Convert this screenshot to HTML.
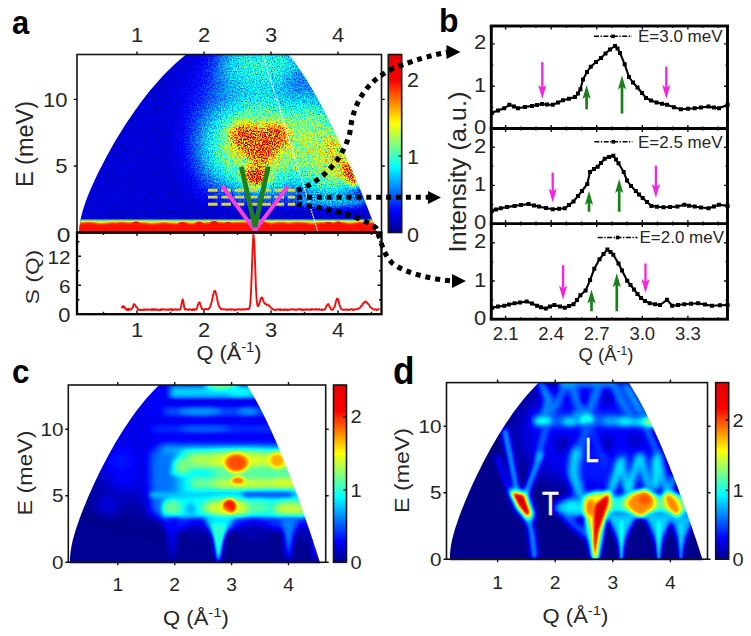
<!DOCTYPE html>
<html lang="en"><head><meta charset="utf-8"><title>Figure</title>
<style>
html,body{margin:0;padding:0;background:#fff}
svg{display:block}
text{font-family:"Liberation Sans",sans-serif;fill:#262626}
.lbl{font-weight:bold;font-size:33.5px;fill:#000}
.tk{font-size:21.5px}
.tkb{font-size:18.5px}
.ax{font-size:22.5px}
.sm{font-size:14px}
.axis{fill:none;stroke:#151515;stroke-width:1.6}
.tick{stroke:#111;stroke-width:1.4;fill:none}
</style></head><body>
<svg width="751" height="636" viewBox="0 0 751 636">
<defs>
<linearGradient id="jetbar" x1="0" y1="1" x2="0" y2="0">
<stop offset="0" stop-color="#00008f"/><stop offset="0.12" stop-color="#0000ff"/>
<stop offset="0.37" stop-color="#00ffff"/><stop offset="0.615" stop-color="#ffff00"/>
<stop offset="0.855" stop-color="#ff0000"/><stop offset="1" stop-color="#e60000"/>
</linearGradient>
<filter id="jet" x="0" y="0" width="100%" height="100%" color-interpolation-filters="sRGB">
<feComponentTransfer>
<feFuncR type="table" tableValues="0 0 0 0 .5 1 1 1 .5"/>
<feFuncG type="table" tableValues="0 0 .5 1 1 1 .5 0 0"/>
<feFuncB type="table" tableValues=".5 1 1 1 .5 0 0 0 0"/>
</feComponentTransfer>
</filter>
<filter id="jetn" x="0" y="0" width="100%" height="100%" color-interpolation-filters="sRGB">
<feTurbulence type="fractalNoise" baseFrequency="0.83 0.77" numOctaves="3" seed="3" result="n"/>
<feColorMatrix in="n" type="matrix" values="2 0 0 0 -0.5  2 0 0 0 -0.5  2 0 0 0 -0.5  0 0 0 0 1" result="ng"/>
<feComposite in="SourceGraphic" in2="ng" operator="arithmetic" k1="0.66" k2="0.67" k3="0.02" k4="-0.01" result="m"/>
<feComponentTransfer in="m">
<feFuncR type="table" tableValues="0 0 0 0 .5 1 1 1 .5"/>
<feFuncG type="table" tableValues="0 0 .5 1 1 1 .5 0 0"/>
<feFuncB type="table" tableValues=".5 1 1 1 .5 0 0 0 0"/>
</feComponentTransfer>
</filter>

<filter id="b1" filterUnits="userSpaceOnUse" x="-100" y="-100" width="950" height="850" color-interpolation-filters="sRGB"><feGaussianBlur stdDeviation="1"/></filter>
<filter id="b1_5" filterUnits="userSpaceOnUse" x="-100" y="-100" width="950" height="850" color-interpolation-filters="sRGB"><feGaussianBlur stdDeviation="1.5"/></filter>
<filter id="b2" filterUnits="userSpaceOnUse" x="-100" y="-100" width="950" height="850" color-interpolation-filters="sRGB"><feGaussianBlur stdDeviation="2"/></filter>
<filter id="b2_5" filterUnits="userSpaceOnUse" x="-100" y="-100" width="950" height="850" color-interpolation-filters="sRGB"><feGaussianBlur stdDeviation="2.5"/></filter>
<filter id="b3" filterUnits="userSpaceOnUse" x="-100" y="-100" width="950" height="850" color-interpolation-filters="sRGB"><feGaussianBlur stdDeviation="3"/></filter>
<filter id="b3_5" filterUnits="userSpaceOnUse" x="-100" y="-100" width="950" height="850" color-interpolation-filters="sRGB"><feGaussianBlur stdDeviation="3.5"/></filter>
<filter id="b4" filterUnits="userSpaceOnUse" x="-100" y="-100" width="950" height="850" color-interpolation-filters="sRGB"><feGaussianBlur stdDeviation="4"/></filter>
<filter id="b4_5" filterUnits="userSpaceOnUse" x="-100" y="-100" width="950" height="850" color-interpolation-filters="sRGB"><feGaussianBlur stdDeviation="4.5"/></filter>
<filter id="b5" filterUnits="userSpaceOnUse" x="-100" y="-100" width="950" height="850" color-interpolation-filters="sRGB"><feGaussianBlur stdDeviation="5"/></filter>
<filter id="b6" filterUnits="userSpaceOnUse" x="-100" y="-100" width="950" height="850" color-interpolation-filters="sRGB"><feGaussianBlur stdDeviation="6"/></filter>
<filter id="b7" filterUnits="userSpaceOnUse" x="-100" y="-100" width="950" height="850" color-interpolation-filters="sRGB"><feGaussianBlur stdDeviation="7"/></filter>
<filter id="b8" filterUnits="userSpaceOnUse" x="-100" y="-100" width="950" height="850" color-interpolation-filters="sRGB"><feGaussianBlur stdDeviation="8"/></filter>
<filter id="b9" filterUnits="userSpaceOnUse" x="-100" y="-100" width="950" height="850" color-interpolation-filters="sRGB"><feGaussianBlur stdDeviation="9"/></filter>
<filter id="b10" filterUnits="userSpaceOnUse" x="-100" y="-100" width="950" height="850" color-interpolation-filters="sRGB"><feGaussianBlur stdDeviation="10"/></filter>
<filter id="b12" filterUnits="userSpaceOnUse" x="-100" y="-100" width="950" height="850" color-interpolation-filters="sRGB"><feGaussianBlur stdDeviation="12"/></filter>
<filter id="b14" filterUnits="userSpaceOnUse" x="-100" y="-100" width="950" height="850" color-interpolation-filters="sRGB"><feGaussianBlur stdDeviation="14"/></filter>
<filter id="b16" filterUnits="userSpaceOnUse" x="-100" y="-100" width="950" height="850" color-interpolation-filters="sRGB"><feGaussianBlur stdDeviation="16"/></filter>
<filter id="b18" filterUnits="userSpaceOnUse" x="-100" y="-100" width="950" height="850" color-interpolation-filters="sRGB"><feGaussianBlur stdDeviation="18"/></filter>
<filter id="b20" filterUnits="userSpaceOnUse" x="-100" y="-100" width="950" height="850" color-interpolation-filters="sRGB"><feGaussianBlur stdDeviation="20"/></filter>
<clipPath id="clipA"><path d="M79.4,232.7 L79.5,228.2 L79.9,223.8 L80.6,219.3 L81.6,214.9 L82.8,210.4 L84.2,206.0 L85.7,201.5 L87.4,197.1 L89.2,192.6 L91.1,188.1 L93.1,183.7 L95.1,179.2 L97.2,174.8 L99.4,170.3 L101.7,165.9 L104.0,161.4 L106.3,157.0 L108.8,152.5 L111.3,148.1 L113.8,143.6 L116.4,139.1 L119.1,134.7 L121.9,130.2 L124.7,125.8 L127.6,121.3 L130.6,116.9 L133.6,112.4 L136.8,108.0 L140.0,103.5 L143.4,99.1 L146.8,94.6 L150.4,90.1 L154.2,85.7 L158.1,81.2 L162.1,76.8 L166.4,72.3 L170.8,67.9 L175.5,63.4 L180.6,59.0 L186.0,54.5 L288.9,54.5 L292.3,59.0 L295.6,63.4 L298.7,67.9 L301.7,72.3 L304.6,76.8 L307.4,81.2 L310.1,85.7 L312.7,90.1 L315.3,94.6 L317.8,99.1 L320.2,103.5 L322.6,108.0 L325.0,112.4 L327.2,116.9 L329.5,121.3 L331.7,125.8 L333.9,130.2 L336.0,134.7 L338.2,139.1 L340.2,143.6 L342.3,148.1 L344.3,152.5 L346.3,157.0 L348.3,161.4 L350.2,165.9 L352.2,170.3 L354.1,174.8 L355.9,179.2 L357.8,183.7 L359.6,188.1 L361.5,192.6 L363.3,197.1 L365.0,201.5 L366.8,206.0 L368.6,210.4 L370.3,214.9 L372.0,219.3 L373.7,223.8 L375.4,228.2 L377.1,232.7 L377.1,233.7 L79.4,233.7 Z"/></clipPath>
<clipPath id="clipC"><path d="M70.0,562.3 L70.0,557.9 L70.4,553.4 L71.0,549.0 L71.8,544.6 L72.8,540.1 L74.0,535.7 L75.3,531.3 L76.7,526.8 L78.2,522.4 L79.8,518.0 L81.5,513.5 L83.2,509.1 L85.0,504.7 L86.8,500.2 L88.7,495.8 L90.7,491.4 L92.6,486.9 L94.7,482.5 L96.8,478.1 L98.9,473.6 L101.1,469.2 L103.4,464.8 L105.7,460.4 L108.0,455.9 L110.5,451.5 L113.0,447.1 L115.5,442.6 L118.2,438.2 L120.9,433.8 L123.7,429.3 L126.6,424.9 L129.6,420.5 L132.7,416.0 L135.9,411.6 L139.3,407.2 L142.8,402.7 L146.5,398.3 L150.4,393.9 L154.6,389.4 L159.1,385.0 L246.8,385.0 L249.6,389.4 L252.3,393.9 L254.9,398.3 L257.3,402.7 L259.7,407.2 L262.0,411.6 L264.2,416.0 L266.4,420.5 L268.5,424.9 L270.5,429.3 L272.6,433.8 L274.5,438.2 L276.5,442.6 L278.4,447.1 L280.2,451.5 L282.0,455.9 L283.9,460.4 L285.6,464.8 L287.4,469.2 L289.1,473.6 L290.8,478.1 L292.5,482.5 L294.1,486.9 L295.8,491.4 L297.4,495.8 L299.0,500.2 L300.6,504.7 L302.2,509.1 L303.7,513.5 L305.3,518.0 L306.8,522.4 L308.3,526.8 L309.8,531.3 L311.3,535.7 L312.8,540.1 L314.2,544.6 L315.7,549.0 L317.1,553.4 L318.5,557.9 L320.0,562.3 L320.0,563.3 L70.0,563.3 Z"/></clipPath>
<clipPath id="clipD"><path d="M449.9,559.2 L450.0,554.8 L450.3,550.4 L450.9,546.0 L451.7,541.5 L452.8,537.1 L453.9,532.7 L455.2,528.3 L456.7,523.9 L458.2,519.5 L459.8,515.1 L461.5,510.6 L463.2,506.2 L465.0,501.8 L466.8,497.4 L468.7,493.0 L470.7,488.6 L472.7,484.1 L474.7,479.7 L476.8,475.3 L479.0,470.9 L481.2,466.5 L483.4,462.1 L485.7,457.7 L488.1,453.2 L490.5,448.8 L493.0,444.4 L495.6,440.0 L498.2,435.6 L500.9,431.2 L503.7,426.8 L506.6,422.3 L509.6,417.9 L512.6,413.5 L515.9,409.1 L519.2,404.7 L522.7,400.3 L526.4,395.8 L530.3,391.4 L534.4,387.0 L538.8,382.6 L628.7,382.6 L631.5,387.0 L634.2,391.4 L636.8,395.8 L639.3,400.3 L641.7,404.7 L644.0,409.1 L646.2,413.5 L648.4,417.9 L650.5,422.3 L652.6,426.8 L654.6,431.2 L656.6,435.6 L658.6,440.0 L660.5,444.4 L662.4,448.8 L664.2,453.2 L666.0,457.7 L667.8,462.1 L669.6,466.5 L671.3,470.9 L673.1,475.3 L674.7,479.7 L676.4,484.1 L678.1,488.6 L679.7,493.0 L681.3,497.4 L682.9,501.8 L684.5,506.2 L686.1,510.6 L687.6,515.1 L689.2,519.5 L690.7,523.9 L692.2,528.3 L693.7,532.7 L695.2,537.1 L696.7,541.5 L698.2,546.0 L699.6,550.4 L701.0,554.8 L702.5,559.2 L702.5,560.2 L449.9,560.2 Z"/></clipPath>
</defs>
<rect width="751" height="636" fill="#fff"/>
<!-- panel a -->
<g clip-path="url(#clipA)"><g filter="url(#jetn)">
<rect x="60" y="40" width="340" height="210" fill="#161616"/>
<ellipse cx="276" cy="120" rx="74" ry="78" fill="#4a4a4a" filter="url(#b20)"/>
<ellipse cx="262" cy="66" rx="42" ry="20" fill="#6b6b6b" filter="url(#b12)"/>
<ellipse cx="300" cy="84" rx="14" ry="13" fill="#3b3b3b" filter="url(#b8)"/>
<ellipse cx="222" cy="152" rx="26" ry="40" fill="#454545" filter="url(#b14)"/>
<ellipse cx="322" cy="152" rx="27" ry="48" fill="#8a8a8a" filter="url(#b12)" transform="rotate(-22 322 152)"/>
<ellipse cx="337" cy="157" rx="12" ry="23" fill="#a3a3a3" filter="url(#b6)" transform="rotate(-22 337 157)"/>
<ellipse cx="350.5" cy="175" rx="5.5" ry="13" fill="#dbdbdb" filter="url(#b3)" transform="rotate(-24 350.5 175)"/>
<ellipse cx="259" cy="146" rx="46" ry="40" fill="#919191" filter="url(#b14)"/>
<g filter="url(#b5)" fill="#cccccc"><ellipse cx="245" cy="136" rx="15" ry="12.5"/><ellipse cx="274.5" cy="136" rx="15" ry="12.5"/><path d="M230,140 L290,140 L260,168 Z"/></g>
<ellipse cx="256" cy="176.5" rx="12" ry="10" fill="#dbdbdb" filter="url(#b4)"/>
<ellipse cx="332" cy="201" rx="38" ry="6" fill="#545454" filter="url(#b4)"/>
<ellipse cx="250" cy="214" rx="150" ry="5" fill="#131313" filter="url(#b3)"/>
</g></g>
<g clip-path="url(#clipA)"><g filter="url(#jet)">
<rect x="60" y="219.6" width="340" height="16" fill="#666666" filter="url(#b1)"/>
<rect x="60" y="221" width="340" height="16" fill="#9e9e9e" filter="url(#b1)"/>
<polygon points="60,240 60.0,222.5 65.2,223.4 70.1,222.6 75.5,222.0 80.5,222.8 86.7,221.9 90.9,221.9 97.1,222.9 100.3,223.5 107.1,222.9 112.6,222.0 115.7,222.7 118.9,222.0 122.9,221.8 127.7,222.5 134.1,222.6 139.7,222.6 145.3,222.5 149.4,223.5 156.4,223.2 162.2,222.3 166.2,222.2 169.4,223.1 174.0,223.2 178.6,223.4 185.0,221.7 188.8,223.3 193.7,223.5 198.3,221.8 203.8,223.1 207.9,221.9 212.2,223.4 218.2,221.9 222.2,221.9 225.5,223.1 229.2,222.7 234.0,222.0 239.9,221.9 245.5,221.9 250.2,222.1 254.2,223.4 260.4,222.2 267.0,222.1 271.6,223.2 277.1,221.9 284.1,222.1 288.1,223.1 292.4,222.2 295.7,221.9 301.1,222.1 306.5,222.4 311.3,223.4 316.2,222.7 322.7,222.0 326.3,223.3 332.6,222.1 336.3,223.0 343.1,222.1 349.9,223.3 355.3,222.5 358.7,221.8 365.6,222.1 371.4,222.2 377.7,222.8 381.9,222.0 387.7,221.8 391.7,222.7 398.1,222.8 400,240" fill="#dbdbdb" filter="url(#b1)"/>
<circle cx="136" cy="226.5" r="5.2" fill="#dbdbdb"/>
<circle cx="182" cy="226.5" r="4.8" fill="#dbdbdb"/>
<circle cx="199" cy="226.5" r="5.0" fill="#dbdbdb"/>
<circle cx="214" cy="226.5" r="5.8" fill="#dbdbdb"/>
<circle cx="228" cy="226.5" r="4.8" fill="#dbdbdb"/>
<circle cx="254" cy="226.5" r="4.8" fill="#dbdbdb"/>
<circle cx="262" cy="226.5" r="5.3" fill="#dbdbdb"/>
<circle cx="328" cy="226.5" r="4.8" fill="#dbdbdb"/>
<circle cx="338" cy="226.5" r="5.2" fill="#dbdbdb"/>
<circle cx="366" cy="226.5" r="4.8" fill="#dbdbdb"/>
</g></g>
<line x1="262.5" y1="54" x2="318" y2="232" stroke="#fff" stroke-width="1.25" stroke-dasharray="1.8 0.9" clip-path="url(#clipA)"/>
<line x1="208" y1="190.3" x2="295" y2="190.3" stroke="#d6d63a" stroke-width="2.9" stroke-dasharray="9.6 3.7"/>
<line x1="208" y1="197.1" x2="295" y2="197.1" stroke="#d6d63a" stroke-width="2.9" stroke-dasharray="9.6 3.7"/>
<line x1="208" y1="204.3" x2="295" y2="204.3" stroke="#d6d63a" stroke-width="2.9" stroke-dasharray="9.6 3.7"/>
<polyline points="222.2,186 255,230.5 287.7,186.4" fill="none" stroke="#fb3fdc" stroke-width="4" stroke-linejoin="miter"/>
<polyline points="241.3,166.8 255,227 268.2,166.8" fill="none" stroke="#1f7d1f" stroke-width="4.8" stroke-linejoin="miter"/>
<polyline points="121.6,308.3 122.4,306.8 123.2,305.9 124.0,307.6 124.8,307.2 125.6,309.2 126.4,309.7 127.2,309.0 128.0,310.4 128.8,308.7 129.6,309.6 130.4,309.5 131.2,309.5 132.0,308.1 132.8,307.8 133.7,304.1 134.5,304.3 135.3,305.4 136.1,306.9 136.9,307.4 137.7,308.9 138.5,309.8 139.3,309.8 140.1,310.0 140.9,310.0 141.7,310.1 142.5,309.9 143.3,309.5 144.1,310.2 144.9,309.4 145.7,309.8 146.5,309.8 147.3,309.2 148.1,309.6 148.9,309.8 149.7,309.6 150.5,309.4 151.3,310.1 152.1,309.0 152.9,310.2 153.8,309.3 154.6,309.2 155.4,310.2 156.2,309.3 157.0,309.8 157.8,309.5 158.6,310.2 159.4,310.2 160.2,310.0 161.0,309.1 161.8,310.0 162.6,309.3 163.4,309.1 164.2,309.1 165.0,309.8 165.8,309.8 166.6,309.6 167.4,309.3 168.2,310.1 169.0,309.3 169.8,309.3 170.6,309.2 171.4,310.2 172.2,309.1 173.0,310.1 173.9,309.8 174.7,309.5 175.5,309.1 176.3,309.8 177.1,309.1 177.9,309.6 178.7,309.8 179.5,309.7 180.3,309.2 181.1,306.7 181.9,301.9 182.7,299.3 183.5,302.5 184.3,307.8 185.1,309.7 185.9,309.0 186.7,309.6 187.5,309.7 188.3,309.9 189.1,309.5 189.9,309.2 190.7,309.7 191.5,309.7 192.3,310.1 193.1,309.1 194.0,310.2 194.8,309.6 195.6,309.1 196.4,309.4 197.2,307.3 198.0,304.7 198.8,302.8 199.6,302.2 200.4,304.8 201.2,307.0 202.0,309.1 202.8,308.9 203.6,309.8 204.4,309.7 205.2,309.0 206.0,309.2 206.8,309.0 207.6,309.5 208.4,309.1 209.2,308.2 210.0,307.2 210.8,305.2 211.6,302.0 212.4,298.6 213.2,294.7 214.1,291.4 214.9,290.7 215.7,292.5 216.5,295.7 217.3,299.6 218.1,303.5 218.9,306.1 219.7,307.3 220.5,308.3 221.3,309.4 222.1,309.1 222.9,309.2 223.7,309.4 224.5,309.4 225.3,309.3 226.1,309.8 226.9,309.4 227.7,309.9 228.5,309.6 229.3,309.3 230.1,309.4 230.9,309.9 231.7,309.1 232.5,309.4 233.3,309.5 234.2,310.2 235.0,309.6 235.8,309.9 236.6,309.4 237.4,309.7 238.2,309.2 239.0,309.4 239.8,309.3 240.6,309.8 241.4,309.4 242.2,309.3 243.0,309.2 243.8,309.8 244.6,309.2 245.4,309.2 246.2,309.4 247.0,309.0 247.8,309.0 248.6,309.3 249.4,308.2 250.2,304.4 251.0,292.4 251.8,271.8 252.6,248.5 253.4,234.8 254.3,241.8 255.1,263.9 255.9,287.1 256.7,300.3 257.5,305.8 258.3,306.0 259.1,304.4 259.9,301.4 260.7,298.7 261.5,297.5 262.3,297.7 263.1,300.2 263.9,302.1 264.7,303.5 265.5,304.1 266.3,304.9 267.1,304.4 267.9,304.6 268.7,305.7 269.5,305.9 270.3,307.0 271.1,308.1 271.9,308.7 272.7,309.0 273.5,309.6 274.4,309.8 275.2,310.1 276.0,309.6 276.8,309.7 277.6,309.5 278.4,309.5 279.2,309.9 280.0,309.1 280.8,310.2 281.6,309.7 282.4,309.9 283.2,309.7 284.0,310.1 284.8,309.2 285.6,309.8 286.4,310.2 287.2,309.5 288.0,310.1 288.8,309.6 289.6,309.8 290.4,309.5 291.2,309.1 292.0,309.2 292.8,309.7 293.6,309.2 294.5,309.4 295.3,309.8 296.1,310.0 296.9,309.5 297.7,309.5 298.5,309.1 299.3,309.0 300.1,309.5 300.9,309.8 301.7,309.1 302.5,310.2 303.3,310.1 304.1,309.5 304.9,309.5 305.7,310.0 306.5,309.5 307.3,309.1 308.1,309.8 308.9,309.7 309.7,309.9 310.5,309.9 311.3,309.0 312.1,309.8 312.9,309.1 313.7,309.1 314.6,309.5 315.4,309.9 316.2,309.0 317.0,309.6 317.8,309.7 318.6,309.8 319.4,309.0 320.2,309.6 321.0,309.9 321.8,309.6 322.6,310.1 323.4,309.4 324.2,309.6 325.0,309.3 325.8,307.7 326.6,305.7 327.4,304.8 328.2,303.9 329.0,305.7 329.8,306.9 330.6,308.5 331.4,309.7 332.2,309.7 333.0,309.6 333.8,307.7 334.7,306.8 335.5,303.5 336.3,300.6 337.1,298.5 337.9,298.9 338.7,301.3 339.5,305.2 340.3,306.9 341.1,308.9 341.9,309.3 342.7,309.7 343.5,309.8 344.3,309.6 345.1,309.7 345.9,309.8 346.7,309.3 347.5,309.5 348.3,310.2 349.1,309.9 349.9,309.7 350.7,309.1 351.5,309.1 352.3,309.6 353.1,310.2 353.9,309.3 354.7,309.7 355.6,309.4 356.4,309.2 357.2,309.1 358.0,309.0 358.8,308.1 359.6,308.1 360.4,307.3 361.2,305.8 362.0,305.5 362.8,304.2 363.6,302.6 364.4,302.8 365.2,301.5 366.0,301.7 366.8,302.6 367.6,303.6 368.4,304.0 369.2,305.0 370.0,307.0 370.8,307.5 371.6,308.1 372.4,308.7 373.2,309.3 374.0,309.7 374.8,309.4 375.7,309.2 376.5,310.1 377.3,309.9 378.1,309.2 378.9,309.3 379.7,309.4" fill="none" stroke="#f40d0d" stroke-width="1.9" stroke-linejoin="round"/>
<rect x="77" y="54.5" width="304.5" height="178.0" class="axis"/>
<rect x="77" y="232.5" width="304.5" height="81.69999999999999" class="axis" style="stroke-width:2.3;stroke:#000"/>
<path d="M137.0,54.5 v-3 M137.0,232.5 v3.5 M137.0,314.2 v-4 M204.0,54.5 v-3 M204.0,232.5 v3.5 M204.0,314.2 v-4 M271.0,54.5 v-3 M271.0,232.5 v3.5 M271.0,314.2 v-4 M338.0,54.5 v-3 M338.0,232.5 v3.5 M338.0,314.2 v-4 M103.5,314.2 v-2.5 M103.5,232.5 v2.5 M170.5,314.2 v-2.5 M170.5,232.5 v2.5 M237.5,314.2 v-2.5 M237.5,232.5 v2.5 M304.5,314.2 v-2.5 M304.5,232.5 v2.5 M371.5,314.2 v-2.5 M371.5,232.5 v2.5 M77,166.04999999999998 h-3.3 M381.5,166.04999999999998 h3.3 M77,99.39999999999998 h-3.3 M381.5,99.39999999999998 h3.3 M77,314.2 h4 M381.5,314.2 h-4 M77,299.7 h2.5 M381.5,299.7 h-2.5 M77,285.2 h4 M381.5,285.2 h-4 M77,270.7 h2.5 M381.5,270.7 h-2.5 M77,256.2 h4 M381.5,256.2 h-4 M77,241.8 h2.5 M381.5,241.8 h-2.5" class="tick"/>
<text transform="translate(137.0,41.8) scale(1.07,1)" text-anchor="middle" style="font-size:20.5px" >1</text>
<text transform="translate(137.0,337) scale(1.07,1)" text-anchor="middle" style="font-size:20.5px" >1</text>
<text transform="translate(204.0,41.8) scale(1.07,1)" text-anchor="middle" style="font-size:20.5px" >2</text>
<text transform="translate(204.0,337) scale(1.07,1)" text-anchor="middle" style="font-size:20.5px" >2</text>
<text transform="translate(271.0,41.8) scale(1.07,1)" text-anchor="middle" style="font-size:20.5px" >3</text>
<text transform="translate(271.0,337) scale(1.07,1)" text-anchor="middle" style="font-size:20.5px" >3</text>
<text transform="translate(338.0,41.8) scale(1.07,1)" text-anchor="middle" style="font-size:20.5px" >4</text>
<text transform="translate(338.0,337) scale(1.07,1)" text-anchor="middle" style="font-size:20.5px" >4</text>
<text transform="translate(67.5,106.6) scale(1.1,1)" text-anchor="end" style="font-size:20px" >10</text>
<text transform="translate(67.5,173.2) scale(1.1,1)" text-anchor="end" style="font-size:20px" >5</text>
<text transform="translate(70.5,242) scale(1.2,1)" text-anchor="end" style="font-size:20.5px" >0</text>
<text transform="translate(70.5,263.5) scale(1.12,1)" text-anchor="end" style="font-size:18.5px" >12</text>
<text transform="translate(70.5,292.5) scale(1.12,1)" text-anchor="end" style="font-size:18.5px" >6</text>
<text transform="translate(70.5,321.5) scale(1.12,1)" text-anchor="end" style="font-size:19.5px" >0</text>
<text transform="translate(32.5,144) rotate(-90)" text-anchor="middle" style="font-size:23.5px" >E (meV)</text>
<text transform="translate(38.8,277) rotate(-90) scale(1.3,1)" text-anchor="middle" style="font-size:17.5px" >S (Q)</text>
<text transform="translate(229,359.5) scale(1.06,1)" text-anchor="middle" style="font-size:20.5px" >Q (Å<tspan dy="-7.8" style="font-size:13.9px">-1</tspan><tspan dy="7.8">)</tspan></text>
<text x="12" y="33.5" class="lbl" textLength="17.2" lengthAdjust="spacingAndGlyphs">a</text>
<rect x="388.3" y="54.5" width="13.4" height="178" fill="url(#jetbar)"/>
<rect x="388.3" y="54.5" width="13.4" height="178" class="axis" stroke-width="0.9"/>
<text transform="translate(407,87) scale(1.08,1)" text-anchor="start" style="font-size:20px" >2</text>
<text transform="translate(407,164) scale(1.08,1)" text-anchor="start" style="font-size:20px" >1</text>
<text transform="translate(407,241.5) scale(1.08,1)" text-anchor="start" style="font-size:20px" >0</text>
<path d="M401.7,80 h-3 M401.7,156.3 h-3" class="tick" stroke-width="0.9"/>
<g fill="none" stroke="#000" stroke-width="5.1" stroke-dasharray="5 4.9">
<path d="M297,190.3 C316,184 342,165 350,132 C353,103 366,82 392,69 C414,60 432,55 447,52.3"/>
<path d="M297,197.3 L429,197.3"/>
<path d="M297,204.5 C330,208 365,218 376,228 C381,240 382,252 392,263 C405,273 430,279 452,281"/>
</g>
<path d="M460.5,52 L446.5,45 L446.5,59 Z M441,197.5 L428,191 L428,204 Z M466,281 L452,274 L452,288 Z" fill="#000"/>
<!-- panel b -->
<polyline points="492.1,112.8 498,110.5 504.2,108.3 509.4,104.8 514,106.5 518,108.3 525,107 532,105.9 537,105 542,104 547,104.6 552.7,104.8 558,102.5 563,100.3 569,98.8 575,96.9 578,93.5 580.4,89.3 583,79.6 587,72 590.8,66.7 596,62 601,58 605.5,53.5 610,49.4 615,46 617.5,48.5 620,52.9 624.7,64.3 629,77 633,82.5 637.5,87.5 642,93 646,97.9 651,100.5 656.6,102.4 662,103.8 667,104.8 674,107.2 680.8,109.3 688,108.8 694.7,108.3 701,107.5 708.5,106.6 714,107.6 719,108.3 727.6,104.8" fill="none" stroke="#000" stroke-width="2.1" stroke-linejoin="round"/>
<path d="M490.1,110.8h4v4h-4zM496.0,108.5h4v4h-4zM502.2,106.3h4v4h-4zM507.4,102.8h4v4h-4zM512.0,104.5h4v4h-4zM516.0,106.3h4v4h-4zM523.0,105.0h4v4h-4zM530.0,103.9h4v4h-4zM535.0,103.0h4v4h-4zM540.0,102.0h4v4h-4zM545.0,102.6h4v4h-4zM550.7,102.8h4v4h-4zM556.0,100.5h4v4h-4zM561.0,98.3h4v4h-4zM567.0,96.8h4v4h-4zM573.0,94.9h4v4h-4zM576.0,91.5h4v4h-4zM578.4,87.3h4v4h-4zM581.0,77.6h4v4h-4zM585.0,70.0h4v4h-4zM588.8,64.7h4v4h-4zM594.0,60.0h4v4h-4zM599.0,56.0h4v4h-4zM603.5,51.5h4v4h-4zM608.0,47.4h4v4h-4zM613.0,44.0h4v4h-4zM615.5,46.5h4v4h-4zM618.0,50.9h4v4h-4zM622.7,62.3h4v4h-4zM627.0,75.0h4v4h-4zM631.0,80.5h4v4h-4zM635.5,85.5h4v4h-4zM640.0,91.0h4v4h-4zM644.0,95.9h4v4h-4zM649.0,98.5h4v4h-4zM654.6,100.4h4v4h-4zM660.0,101.8h4v4h-4zM665.0,102.8h4v4h-4zM672.0,105.2h4v4h-4zM678.8,107.3h4v4h-4zM686.0,106.8h4v4h-4zM692.7,106.3h4v4h-4zM699.0,105.5h4v4h-4zM706.5,104.6h4v4h-4zM712.0,105.6h4v4h-4zM717.0,106.3h4v4h-4zM725.6,102.8h4v4h-4z" fill="#000"/>
<polyline points="492,210.7 496,209.4 500.8,208.3 507,207 514.6,205.9 521,205 528.5,204.1 534,205.5 538.9,206.6 546,208 552.7,209.3 559,208.8 564.8,208.3 569,205 573.5,201.4 578,196 582,191 587.3,184 590,172 594,169 597.7,166.7 601,163 604.7,158.8 609,157 613.3,155.7 616,159.5 618.5,163.3 623.7,172 627,180.6 631,186 635.8,191 639,194.5 642.7,197.9 647,202 651.4,205.9 657,206.7 663.5,207.3 670,207 677.4,206.6 684.3,204.8 689,205.8 694.7,206.6 701,207.5 708.5,208.3 714,206.5 718.9,204.8 727.6,205.9" fill="none" stroke="#000" stroke-width="2.1" stroke-linejoin="round"/>
<path d="M490.0,208.7h4v4h-4zM494.0,207.4h4v4h-4zM498.8,206.3h4v4h-4zM505.0,205.0h4v4h-4zM512.6,203.9h4v4h-4zM519.0,203.0h4v4h-4zM526.5,202.1h4v4h-4zM532.0,203.5h4v4h-4zM536.9,204.6h4v4h-4zM544.0,206.0h4v4h-4zM550.7,207.3h4v4h-4zM557.0,206.8h4v4h-4zM562.8,206.3h4v4h-4zM567.0,203.0h4v4h-4zM571.5,199.4h4v4h-4zM576.0,194.0h4v4h-4zM580.0,189.0h4v4h-4zM585.3,182.0h4v4h-4zM588.0,170.0h4v4h-4zM592.0,167.0h4v4h-4zM595.7,164.7h4v4h-4zM599.0,161.0h4v4h-4zM602.7,156.8h4v4h-4zM607.0,155.0h4v4h-4zM611.3,153.7h4v4h-4zM614.0,157.5h4v4h-4zM616.5,161.3h4v4h-4zM621.7,170.0h4v4h-4zM625.0,178.6h4v4h-4zM629.0,184.0h4v4h-4zM633.8,189.0h4v4h-4zM637.0,192.5h4v4h-4zM640.7,195.9h4v4h-4zM645.0,200.0h4v4h-4zM649.4,203.9h4v4h-4zM655.0,204.7h4v4h-4zM661.5,205.3h4v4h-4zM668.0,205.0h4v4h-4zM675.4,204.6h4v4h-4zM682.3,202.8h4v4h-4zM687.0,203.8h4v4h-4zM692.7,204.6h4v4h-4zM699.0,205.5h4v4h-4zM706.5,206.3h4v4h-4zM712.0,204.5h4v4h-4zM716.9,202.8h4v4h-4zM725.6,203.9h4v4h-4z" fill="#000"/>
<polyline points="492.1,307.8 498,306.6 504.2,305.7 509,304.5 514.6,303.3 520,302.5 526.7,301.6 532,303.5 537.1,305.7 541,307.2 545.8,308.5 550,306.6 554.4,305 560,306.5 564.8,307.8 569,306 573.5,304.3 577,300 580.4,295.3 585.6,290.5 590.1,280.1 594.3,268.7 599.5,259.3 603.5,254 607.4,249.6 610.5,252 613.3,254.8 618.5,263.5 622,270.4 627.2,280.8 630.5,285 634,289.4 637.5,294 641,298.1 645,301 649.7,303.3 655,304.3 660,305 667,299.8 672.2,305.7 678,305 684.3,304.3 691,303.8 698.1,303.3 705,304.6 712,305.7 720,305.3 727.6,305" fill="none" stroke="#000" stroke-width="2.1" stroke-linejoin="round"/>
<path d="M490.1,305.8h4v4h-4zM496.0,304.6h4v4h-4zM502.2,303.7h4v4h-4zM507.0,302.5h4v4h-4zM512.6,301.3h4v4h-4zM518.0,300.5h4v4h-4zM524.7,299.6h4v4h-4zM530.0,301.5h4v4h-4zM535.1,303.7h4v4h-4zM539.0,305.2h4v4h-4zM543.8,306.5h4v4h-4zM548.0,304.6h4v4h-4zM552.4,303.0h4v4h-4zM558.0,304.5h4v4h-4zM562.8,305.8h4v4h-4zM567.0,304.0h4v4h-4zM571.5,302.3h4v4h-4zM575.0,298.0h4v4h-4zM578.4,293.3h4v4h-4zM583.6,288.5h4v4h-4zM588.1,278.1h4v4h-4zM592.3,266.7h4v4h-4zM597.5,257.3h4v4h-4zM601.5,252.0h4v4h-4zM605.4,247.6h4v4h-4zM608.5,250.0h4v4h-4zM611.3,252.8h4v4h-4zM616.5,261.5h4v4h-4zM620.0,268.4h4v4h-4zM625.2,278.8h4v4h-4zM628.5,283.0h4v4h-4zM632.0,287.4h4v4h-4zM635.5,292.0h4v4h-4zM639.0,296.1h4v4h-4zM643.0,299.0h4v4h-4zM647.7,301.3h4v4h-4zM653.0,302.3h4v4h-4zM658.0,303.0h4v4h-4zM665.0,297.8h4v4h-4zM670.2,303.7h4v4h-4zM676.0,303.0h4v4h-4zM682.3,302.3h4v4h-4zM689.0,301.8h4v4h-4zM696.1,301.3h4v4h-4zM703.0,302.6h4v4h-4zM710.0,303.7h4v4h-4zM718.0,303.3h4v4h-4zM725.6,303.0h4v4h-4z" fill="#000"/>
<path d="M542.3,62.2 L542.3,88.5" stroke="#f524e0" stroke-width="2.3" fill="none"/><path d="M542.3,99 L538.1999999999999,85.0 L542.3,88.0 L546.4,85.0 Z" fill="#f524e0"/>
<path d="M666.3,66.7 L666.3,88.5" stroke="#f524e0" stroke-width="2.3" fill="none"/><path d="M666.3,99 L662.1999999999999,85.0 L666.3,88.0 L670.4,85.0 Z" fill="#f524e0"/>
<path d="M586.6,109.3 L586.6,95.5" stroke="#1a801a" stroke-width="2.7" fill="none"/><path d="M586.6,85 L582.5,99.0 L586.6,96.0 L590.7,99.0 Z" fill="#1a801a"/>
<path d="M622,113.5 L622,85.9" stroke="#1a801a" stroke-width="2.7" fill="none"/><path d="M622,75.4 L617.9,89.4 L622,86.4 L626.1,89.4 Z" fill="#1a801a"/>
<path d="M552.7,172.6 L552.7,191.9" stroke="#f524e0" stroke-width="2.3" fill="none"/><path d="M552.7,202.4 L548.6,188.4 L552.7,191.4 L556.8000000000001,188.4 Z" fill="#f524e0"/>
<path d="M655.9,165.7 L655.9,187.4" stroke="#f524e0" stroke-width="2.3" fill="none"/><path d="M655.9,197.9 L651.8,183.9 L655.9,186.9 L660.0,183.9 Z" fill="#f524e0"/>
<path d="M589,211.8 L589,201.5" stroke="#1a801a" stroke-width="2.7" fill="none"/><path d="M589,191 L584.9,205.0 L589,202.0 L593.1,205.0 Z" fill="#1a801a"/>
<path d="M619.2,211.8 L619.2,189.4" stroke="#1a801a" stroke-width="2.7" fill="none"/><path d="M619.2,178.9 L615.1,192.9 L619.2,189.9 L623.3000000000001,192.9 Z" fill="#1a801a"/>
<path d="M563.1,265.2 L563.1,289.3" stroke="#f524e0" stroke-width="2.3" fill="none"/><path d="M563.1,299.8 L559.0,285.8 L563.1,288.8 L567.2,285.8 Z" fill="#f524e0"/>
<path d="M645.5,263.5 L645.5,282.4" stroke="#f524e0" stroke-width="2.3" fill="none"/><path d="M645.5,292.9 L641.4,278.9 L645.5,281.9 L649.6,278.9 Z" fill="#f524e0"/>
<path d="M591.5,311.3 L591.5,299.9" stroke="#1a801a" stroke-width="2.7" fill="none"/><path d="M591.5,289.4 L587.4,303.4 L591.5,300.4 L595.6,303.4 Z" fill="#1a801a"/>
<path d="M616.8,311.3 L616.8,283.7" stroke="#1a801a" stroke-width="2.7" fill="none"/><path d="M616.8,273.2 L612.6999999999999,287.2 L616.8,284.2 L620.9,287.2 Z" fill="#1a801a"/>
<line x1="594" y1="36.3" x2="632" y2="36.3" stroke="#000" stroke-width="1.4" stroke-dasharray="5 1.5 1.4 1.5"/>
<rect x="611.2" y="34.5" width="3.6" height="3.6" fill="#000"/>
<text x="638.0" y="42.2" style="font-size:16.6px" textLength="84.5" lengthAdjust="spacingAndGlyphs">E=3.0 meV</text>
<line x1="594.3" y1="141.8" x2="632.4" y2="141.8" stroke="#000" stroke-width="1.4" stroke-dasharray="5 1.5 1.4 1.5"/>
<rect x="611.55" y="140.0" width="3.6" height="3.6" fill="#000"/>
<text x="638.0" y="147.7" style="font-size:16.6px" textLength="84.5" lengthAdjust="spacingAndGlyphs">E=2.5 meV</text>
<line x1="597.7" y1="237.5" x2="637.5" y2="237.5" stroke="#000" stroke-width="1.4" stroke-dasharray="5 1.5 1.4 1.5"/>
<rect x="615.8000000000001" y="235.7" width="3.6" height="3.6" fill="#000"/>
<text x="639.5" y="243.2" style="font-size:16.6px" textLength="84.5" lengthAdjust="spacingAndGlyphs">E=2.0 meV</text>
<rect x="491.3" y="26" width="236.2" height="293.2" class="axis" style="stroke-width:2.9;stroke:#000"/>
<path d="M491.3,128.5 H727.5 M491.3,223.6 H727.5" class="axis" style="stroke-width:2.9;stroke:#000"/>
<path d="M490.4,26 v2 M490.4,128.5 v-2 M490.4,128.5 v2 M490.4,223.6 v-2 M490.4,223.6 v2 M490.4,319.2 v-2 M505.6,26 v3.5 M505.6,128.5 v-3.5 M505.6,128.5 v3.5 M505.6,223.6 v-3.5 M505.6,223.6 v3.5 M505.6,319.2 v-3.5 M520.8,26 v2 M520.8,128.5 v-2 M520.8,128.5 v2 M520.8,223.6 v-2 M520.8,223.6 v2 M520.8,319.2 v-2 M536.0,26 v2 M536.0,128.5 v-2 M536.0,128.5 v2 M536.0,223.6 v-2 M536.0,223.6 v2 M536.0,319.2 v-2 M551.2,26 v3.5 M551.2,128.5 v-3.5 M551.2,128.5 v3.5 M551.2,223.6 v-3.5 M551.2,223.6 v3.5 M551.2,319.2 v-3.5 M566.4,26 v2 M566.4,128.5 v-2 M566.4,128.5 v2 M566.4,223.6 v-2 M566.4,223.6 v2 M566.4,319.2 v-2 M581.6,26 v2 M581.6,128.5 v-2 M581.6,128.5 v2 M581.6,223.6 v-2 M581.6,223.6 v2 M581.6,319.2 v-2 M596.7,26 v3.5 M596.7,128.5 v-3.5 M596.7,128.5 v3.5 M596.7,223.6 v-3.5 M596.7,223.6 v3.5 M596.7,319.2 v-3.5 M611.9,26 v2 M611.9,128.5 v-2 M611.9,128.5 v2 M611.9,223.6 v-2 M611.9,223.6 v2 M611.9,319.2 v-2 M627.1,26 v2 M627.1,128.5 v-2 M627.1,128.5 v2 M627.1,223.6 v-2 M627.1,223.6 v2 M627.1,319.2 v-2 M642.3,26 v3.5 M642.3,128.5 v-3.5 M642.3,128.5 v3.5 M642.3,223.6 v-3.5 M642.3,223.6 v3.5 M642.3,319.2 v-3.5 M657.5,26 v2 M657.5,128.5 v-2 M657.5,128.5 v2 M657.5,223.6 v-2 M657.5,223.6 v2 M657.5,319.2 v-2 M672.7,26 v2 M672.7,128.5 v-2 M672.7,128.5 v2 M672.7,223.6 v-2 M672.7,223.6 v2 M672.7,319.2 v-2 M687.9,26 v3.5 M687.9,128.5 v-3.5 M687.9,128.5 v3.5 M687.9,223.6 v-3.5 M687.9,223.6 v3.5 M687.9,319.2 v-3.5 M703.1,26 v2 M703.1,128.5 v-2 M703.1,128.5 v2 M703.1,223.6 v-2 M703.1,223.6 v2 M703.1,319.2 v-2 M718.3,26 v2 M718.3,128.5 v-2 M718.3,128.5 v2 M718.3,223.6 v-2 M718.3,223.6 v2 M718.3,319.2 v-2 M491.3,107.3 h2 M727.5,107.3 h-2 M491.3,86.2 h3.5 M727.5,86.2 h-3.5 M491.3,65.1 h2 M727.5,65.1 h-2 M491.3,43.9 h3.5 M727.5,43.9 h-3.5 M491.3,204.5 h2 M727.5,204.5 h-2 M491.3,185.4 h3.5 M727.5,185.4 h-3.5 M491.3,166.3 h2 M727.5,166.3 h-2 M491.3,147.2 h3.5 M727.5,147.2 h-3.5 M491.3,300.1 h2 M727.5,300.1 h-2 M491.3,281.0 h3.5 M727.5,281.0 h-3.5 M491.3,261.9 h2 M727.5,261.9 h-2 M491.3,242.8 h3.5 M727.5,242.8 h-3.5" class="tick" stroke-width="1.3"/>
<text transform="translate(486.3,134.0) scale(1.13,1)" text-anchor="end" style="font-size:19.5px" >0</text>
<text transform="translate(486.3,91.7) scale(1.13,1)" text-anchor="end" style="font-size:19.5px" >1</text>
<text transform="translate(486.3,49.4) scale(1.13,1)" text-anchor="end" style="font-size:19.5px" >2</text>
<text transform="translate(486.3,229.1) scale(1.13,1)" text-anchor="end" style="font-size:19.5px" >0</text>
<text transform="translate(486.3,190.9) scale(1.13,1)" text-anchor="end" style="font-size:19.5px" >1</text>
<text transform="translate(486.3,152.7) scale(1.13,1)" text-anchor="end" style="font-size:19.5px" >2</text>
<text transform="translate(486.3,324.7) scale(1.13,1)" text-anchor="end" style="font-size:19.5px" >0</text>
<text transform="translate(486.3,286.5) scale(1.13,1)" text-anchor="end" style="font-size:19.5px" >1</text>
<text transform="translate(486.3,248.3) scale(1.13,1)" text-anchor="end" style="font-size:19.5px" >2</text>
<text x="505.6" y="340" text-anchor="middle" class="tkb">2.1</text>
<text x="551.2" y="340" text-anchor="middle" class="tkb">2.4</text>
<text x="596.7" y="340" text-anchor="middle" class="tkb">2.7</text>
<text x="642.3" y="340" text-anchor="middle" class="tkb">3.0</text>
<text x="687.9" y="340" text-anchor="middle" class="tkb">3.3</text>
<text x="606" y="361" text-anchor="middle" class="tkb">Q (Å<tspan dy="-6" font-size="12">-1</tspan><tspan dy="6">)</tspan></text>
<text transform="translate(465.5,172) rotate(-90)" text-anchor="middle" style="font-size:23.5px" textLength="161" lengthAdjust="spacingAndGlyphs">Intensity (a.u.)</text>
<text x="439" y="32" class="lbl" textLength="19.5" lengthAdjust="spacingAndGlyphs">b</text>
<!-- panel c -->
<g clip-path="url(#clipC)"><g filter="url(#jet)">
<rect x="60" y="375" width="280" height="195" fill="#050505"/>
<ellipse cx="185" cy="440" rx="115" ry="68" fill="#1b1b1b" filter="url(#b14)"/>
<ellipse cx="122" cy="462" rx="14" ry="12" fill="#262626" filter="url(#b6)"/>
<ellipse cx="124" cy="480" rx="12" ry="8" fill="#212121" filter="url(#b5)"/>
<ellipse cx="108" cy="505" rx="12" ry="10" fill="#1a1a1a" filter="url(#b6)"/>
<rect x="150" y="380" width="150" height="65" fill="#212121" filter="url(#b8)" />
<rect x="170" y="386" width="120" height="12.5" fill="#575757" filter="url(#b3)" />
<ellipse cx="222" cy="385.5" rx="17" ry="4" fill="#858585" filter="url(#b2_5)"/>
<ellipse cx="240" cy="392" rx="12" ry="4" fill="#616161" filter="url(#b2_5)"/>
<rect x="166" y="400.5" width="96" height="4.5" fill="#131313" filter="url(#b2)" />
<rect x="164" y="408" width="126" height="7.5" fill="#373737" filter="url(#b3)" />
<ellipse cx="200" cy="411.5" rx="22" ry="3.2" fill="#4a4a4a" filter="url(#b2_5)"/>
<ellipse cx="248" cy="411.5" rx="10" ry="3.2" fill="#474747" filter="url(#b2_5)"/>
<rect x="150" y="419.5" width="125" height="3.5" fill="#181818" filter="url(#b2)" />
<rect x="152" y="425.5" width="138" height="7.5" fill="#2d2d2d" filter="url(#b3)" />
<ellipse cx="205" cy="429" rx="26" ry="3" fill="#3b3b3b" filter="url(#b2_5)"/>
<rect x="140" y="435.5" width="142" height="5.0" fill="#1d1d1d" filter="url(#b2_5)" />
<rect x="160" y="446" width="175" height="72" fill="#5c5c5c" filter="url(#b4_5)" />
<rect x="150" y="450" width="28" height="65" fill="#3d3d3d" filter="url(#b5)" />
<rect x="184" y="451.5" width="151" height="18.0" fill="#7d7d7d" filter="url(#b3_5)" />
<ellipse cx="240" cy="461" rx="36" ry="8.5" fill="#999999" filter="url(#b4)"/>
<ellipse cx="284" cy="461" rx="16" ry="8" fill="#999999" filter="url(#b3_5)"/>
<rect x="190" y="477" width="145" height="12" fill="#7d7d7d" filter="url(#b3_5)" />
<ellipse cx="245" cy="482.5" rx="34" ry="5.5" fill="#969696" filter="url(#b3_5)"/>
<rect x="210" y="468" width="125" height="10" fill="#787878" filter="url(#b3)" />
<rect x="170" y="471" width="45" height="4" fill="#616161" filter="url(#b2)" />
<ellipse cx="182" cy="466" rx="9" ry="8" fill="#808080" filter="url(#b3)"/>
<ellipse cx="200" cy="460" rx="10" ry="5" fill="#8c8c8c" filter="url(#b3)"/>
<ellipse cx="236.5" cy="463" rx="11.5" ry="9.5" fill="#cccccc" filter="url(#b2)"/>
<ellipse cx="238" cy="480.5" rx="6.5" ry="3.8" fill="#c2c2c2" filter="url(#b1_5)"/>
<ellipse cx="277" cy="460.5" rx="7.5" ry="7.5" fill="#b5b5b5" filter="url(#b2)"/>
<ellipse cx="285" cy="483" rx="14" ry="4.5" fill="#9c9c9c" filter="url(#b3)"/>
<rect x="150" y="492.5" width="185" height="5.0" fill="#545454" filter="url(#b2)" />
<rect x="243" y="492.5" width="49" height="5.5" fill="#2b2b2b" filter="url(#b2_5)" />
<rect x="164" y="500" width="171" height="18" fill="#696969" filter="url(#b3)" />
<ellipse cx="172" cy="508" rx="9" ry="8.5" fill="#787878" filter="url(#b2_5)"/>
<ellipse cx="190.5" cy="509" rx="6" ry="7" fill="#4a4a4a" filter="url(#b3)"/>
<ellipse cx="228" cy="508" rx="24" ry="9" fill="#949494" filter="url(#b3)"/>
<ellipse cx="229.5" cy="506.5" rx="6.8" ry="7.5" fill="#dbdbdb" filter="url(#b1_5)"/>
<ellipse cx="223" cy="518" rx="8" ry="9" fill="#999999" filter="url(#b3)"/>
<ellipse cx="291" cy="509" rx="17" ry="7" fill="#919191" filter="url(#b3)"/>
<ellipse cx="258" cy="507" rx="10" ry="6" fill="#757575" filter="url(#b3)"/>
<rect x="165" y="519" width="165" height="10" fill="#303030" filter="url(#b3)" />
<ellipse cx="196" cy="531" rx="11" ry="9" fill="#0d0d0d" filter="url(#b4)"/>
<ellipse cx="254" cy="532" rx="16" ry="10" fill="#0d0d0d" filter="url(#b4)"/>
<ellipse cx="303" cy="533" rx="6" ry="9" fill="#0f0f0f" filter="url(#b3)"/>
<path d="M218.4,564 L214,540 L205,516 L234,516 L223,540 Z" fill="#5c5c5c" filter="url(#b2_5)" />
<path d="M218.4,564 L216,545 L212,524 L226,524 L221,545 Z" fill="#6b6b6b" filter="url(#b1_5)" />
<path d="M288.5,564 L281,518 L297,518 Z" fill="#404040" filter="url(#b2_5)" />
<path d="M315.5,564 L309,518 L323,518 Z" fill="#3b3b3b" filter="url(#b2_5)" />
<path d="M172,564 L165,518 L180,518 Z" fill="#212121" filter="url(#b3)" />
</g></g>
<rect x="68.3" y="385" width="257.4" height="177.29999999999995" class="axis"/>
<path d="M117.8,385 v-3 M117.8,562.3 v3 M174.7,385 v-3 M174.7,562.3 v3 M231.6,385 v-3 M231.6,562.3 v3 M288.5,385 v-3 M288.5,562.3 v3 M68.3,562.3 h-3 M325.7,562.3 h3 M68.3,495.8 h-3 M325.7,495.8 h3 M68.3,429.3 h-3 M325.7,429.3 h3" class="tick"/>
<text transform="translate(117.8,590.8) scale(1.04,1)" text-anchor="middle" style="font-size:18.5px" >1</text>
<text transform="translate(174.7,590.8) scale(1.04,1)" text-anchor="middle" style="font-size:18.5px" >2</text>
<text transform="translate(231.6,590.8) scale(1.04,1)" text-anchor="middle" style="font-size:18.5px" >3</text>
<text transform="translate(288.5,590.8) scale(1.04,1)" text-anchor="middle" style="font-size:18.5px" >4</text>
<text transform="translate(63.5,568.7) scale(1.16,1)" text-anchor="end" style="font-size:17.8px" >0</text>
<text transform="translate(63.5,502.2) scale(1.16,1)" text-anchor="end" style="font-size:17.8px" >5</text>
<text transform="translate(63.5,435.7) scale(1.16,1)" text-anchor="end" style="font-size:17.8px" >10</text>
<text transform="translate(31.8,473) rotate(-90) scale(1.17,1)" text-anchor="middle" style="font-size:19.8px" >E (meV)</text>
<text transform="translate(196,625) scale(1.1,1)" text-anchor="middle" style="font-size:20px" >Q (Å<tspan dy="-7.6" style="font-size:13.6px">-1</tspan><tspan dy="7.6">)</tspan></text>
<text x="12" y="383.3" class="lbl" textLength="17.5" lengthAdjust="spacingAndGlyphs">c</text>
<rect x="333.5" y="385" width="13" height="177.3" fill="url(#jetbar)"/>
<rect x="333.5" y="385" width="13" height="177.3" class="axis" stroke-width="0.9"/>
<text transform="translate(350.5,423) scale(1.08,1)" text-anchor="start" style="font-size:18.5px" >2</text>
<text transform="translate(350.5,496.5) scale(1.08,1)" text-anchor="start" style="font-size:18.5px" >1</text>
<text transform="translate(350.5,568.7) scale(1.08,1)" text-anchor="start" style="font-size:18.5px" >0</text>
<path d="M346.5,416.7 h-3 M346.5,490 h-3" class="tick" stroke-width="0.9"/>
<!-- panel d -->
<g clip-path="url(#clipD)"><g filter="url(#jet)">
<rect x="440" y="375" width="280" height="195" fill="#030303"/>
<ellipse cx="592" cy="432" rx="74" ry="54" fill="#202020" filter="url(#b12)"/>
<ellipse cx="622" cy="468" rx="52" ry="24" fill="#262626" filter="url(#b8)"/>
<ellipse cx="596" cy="398" rx="46" ry="17" fill="#242424" filter="url(#b6)"/>
<ellipse cx="562" cy="396" rx="6" ry="7" fill="#0e0e0e" filter="url(#b3)"/>
<ellipse cx="583" cy="401" rx="5" ry="7" fill="#0e0e0e" filter="url(#b3)"/>
<ellipse cx="607" cy="398" rx="6" ry="7" fill="#0e0e0e" filter="url(#b3)"/>
<ellipse cx="562" cy="444" rx="8" ry="9" fill="#0d0d0d" filter="url(#b4)"/>
<ellipse cx="607" cy="444" rx="7" ry="9" fill="#0d0d0d" filter="url(#b4)"/>
<ellipse cx="634" cy="441" rx="6" ry="8" fill="#0d0d0d" filter="url(#b4)"/>
<polyline points="541,384 549,400 544,416" fill="none" stroke="#525252" stroke-width="6.5" stroke-linecap="round" stroke-linejoin="round" filter="url(#b3)" />
<polyline points="566,384 558,402 546,419" fill="none" stroke="#4a4a4a" stroke-width="6.5" stroke-linecap="round" stroke-linejoin="round" filter="url(#b3)" />
<polyline points="572,386 577,402 586,416" fill="none" stroke="#4a4a4a" stroke-width="6.5" stroke-linecap="round" stroke-linejoin="round" filter="url(#b3)" />
<polyline points="598,388 592,404 587,416" fill="none" stroke="#4a4a4a" stroke-width="6.5" stroke-linecap="round" stroke-linejoin="round" filter="url(#b3)" />
<polyline points="614,384 622,402 632,418" fill="none" stroke="#4a4a4a" stroke-width="6.5" stroke-linecap="round" stroke-linejoin="round" filter="url(#b3)" />
<polyline points="626,386 636,404 646,420" fill="none" stroke="#525252" stroke-width="6.5" stroke-linecap="round" stroke-linejoin="round" filter="url(#b3)" />
<polyline points="560,384.5 612,384.5" fill="none" stroke="#575757" stroke-width="3" stroke-linecap="round" stroke-linejoin="round" filter="url(#b2)" />
<rect x="532" y="414" width="130" height="13" fill="#393939" filter="url(#b3_5)" />
<ellipse cx="543" cy="421" rx="9.0" ry="4.3" fill="#666666" filter="url(#b2_5)"/>
<ellipse cx="570" cy="421.5" rx="8.0" ry="3.8" fill="#5c5c5c" filter="url(#b2_5)"/>
<ellipse cx="586" cy="419.5" rx="8.0" ry="5.3" fill="#6e6e6e" filter="url(#b2_5)"/>
<ellipse cx="577" cy="415" rx="4.0" ry="4.8" fill="#4c4c4c" filter="url(#b2_5)"/>
<ellipse cx="612" cy="421" rx="10.0" ry="3.8" fill="#4c4c4c" filter="url(#b2_5)"/>
<ellipse cx="626" cy="421.5" rx="9.0" ry="4.0" fill="#616161" filter="url(#b2_5)"/>
<ellipse cx="640" cy="422" rx="7.0" ry="4.0" fill="#5c5c5c" filter="url(#b2_5)"/>
<ellipse cx="649" cy="422.5" rx="5.5" ry="4.8" fill="#949494" filter="url(#b2_5)"/>
<polyline points="546,428 541,445 538,458" fill="none" stroke="#404040" stroke-width="5" stroke-linecap="round" stroke-linejoin="round" filter="url(#b2_5)" />
<polyline points="588,426 582,442 577,456" fill="none" stroke="#424242" stroke-width="6" stroke-linecap="round" stroke-linejoin="round" filter="url(#b3)" />
<polyline points="589,426 598,445 604,462" fill="none" stroke="#333333" stroke-width="5" stroke-linecap="round" stroke-linejoin="round" filter="url(#b3)" />
<polyline points="646,428 654,445 660,458" fill="none" stroke="#424242" stroke-width="5" stroke-linecap="round" stroke-linejoin="round" filter="url(#b2_5)" />
<polyline points="505,431 512,466 517,493" fill="none" stroke="#5c5c5c" stroke-width="5.2" stroke-linecap="round" stroke-linejoin="round" filter="url(#b2_5)" />
<polyline points="497,457 507,484 514,496" fill="none" stroke="#333333" stroke-width="4" stroke-linecap="round" stroke-linejoin="round" filter="url(#b2_5)" />
<polyline points="540.5,454 533,475 526,493" fill="none" stroke="#595959" stroke-width="5.2" stroke-linecap="round" stroke-linejoin="round" filter="url(#b2_5)" />
<polyline points="527,512 532,534 534.5,557" fill="none" stroke="#5c5c5c" stroke-width="5" stroke-linecap="round" stroke-linejoin="round" filter="url(#b2_5)" />
<path d="M508,489 L527,492 L535,516 L528,522 L516,508 Z" fill="#737373" filter="url(#b3)" />
<path d="M510.5,491 L525,494 L532,514.5 L527.5,518.5 L518,508 Z" fill="#a3a3a3" filter="url(#b2)" />
<path d="M512.5,493 L523.5,495.5 L529.5,513.5 L527,515.5 L519.5,506 Z" fill="#ededed" filter="url(#b1_5)" />
<polyline points="576,452 573,473 580,494" fill="none" stroke="#5c5c5c" stroke-width="9.5" stroke-linecap="round" stroke-linejoin="round" filter="url(#b3_5)" />
<polyline points="558,508 568,509 580,511" fill="none" stroke="#595959" stroke-width="9" stroke-linecap="round" stroke-linejoin="round" filter="url(#b3_5)" />
<polyline points="566,516 576,526 586,534" fill="none" stroke="#4c4c4c" stroke-width="6.5" stroke-linecap="round" stroke-linejoin="round" filter="url(#b3_5)" />
<polyline points="611.6,489 617,474 622,460" fill="none" stroke="#666666" stroke-width="6.8" stroke-linecap="round" stroke-linejoin="round" filter="url(#b3)" />
<polyline points="628.3,489 624,476 620,466" fill="none" stroke="#5c5c5c" stroke-width="6.8" stroke-linecap="round" stroke-linejoin="round" filter="url(#b3)" />
<polyline points="628.3,489 634,472 640,457" fill="none" stroke="#616161" stroke-width="6.8" stroke-linecap="round" stroke-linejoin="round" filter="url(#b3)" />
<polyline points="649,488 645,473 641,460" fill="none" stroke="#5c5c5c" stroke-width="6.8" stroke-linecap="round" stroke-linejoin="round" filter="url(#b3)" />
<polyline points="655.8,487 656.3,472 656.8,458" fill="none" stroke="#6e6e6e" stroke-width="6.8" stroke-linecap="round" stroke-linejoin="round" filter="url(#b3)" />
<polyline points="666.6,490 662,476 658,464" fill="none" stroke="#5c5c5c" stroke-width="6.8" stroke-linecap="round" stroke-linejoin="round" filter="url(#b3)" />
<polyline points="668,490 674,478" fill="none" stroke="#545454" stroke-width="6.8" stroke-linecap="round" stroke-linejoin="round" filter="url(#b3)" />
<rect x="582" y="495.5" width="118" height="18.5" fill="#666666" filter="url(#b3)" />
<ellipse cx="641" cy="503" rx="19" ry="12" fill="#8a8a8a" filter="url(#b3)"/>
<ellipse cx="673" cy="505" rx="10" ry="14" fill="#8c8c8c" filter="url(#b3)" transform="rotate(-30 673 505)"/>
<ellipse cx="597" cy="505" rx="15" ry="13" fill="#8f8f8f" filter="url(#b3)"/>
<path d="M621.4,562 Q620.5,538 604,513 L639,513 Q622.3,538 621.4,562 Z" fill="#545454" filter="url(#b2_5)" />
<path d="M658.8,562 Q657.9,538 642,513 L676,513 Q659.7,538 658.8,562 Z" fill="#545454" filter="url(#b2_5)" />
<path d="M681,562 Q680,538 668,513 L698,513 Q682,538 681,562 Z" fill="#4f4f4f" filter="url(#b2_5)" />
<polyline points="621.4,559 621.4,522" fill="none" stroke="#6b6b6b" stroke-width="2.6" stroke-linecap="round" stroke-linejoin="round" filter="url(#b1_5)" />
<polyline points="658.8,559 658.8,522" fill="none" stroke="#6b6b6b" stroke-width="2.6" stroke-linecap="round" stroke-linejoin="round" filter="url(#b1_5)" />
<polyline points="681,559 681,524" fill="none" stroke="#5c5c5c" stroke-width="2.4" stroke-linecap="round" stroke-linejoin="round" filter="url(#b1_5)" />
<polyline points="602,521 599.5,540 596.5,556" fill="none" stroke="#666666" stroke-width="6" stroke-linecap="round" stroke-linejoin="round" filter="url(#b2_5)" />
<polyline points="587,521 590.5,540 594,556" fill="none" stroke="#666666" stroke-width="5.5" stroke-linecap="round" stroke-linejoin="round" filter="url(#b2_5)" />
<ellipse cx="573" cy="506" rx="13" ry="9" fill="#5e5e5e" filter="url(#b4)"/>
<path d="M595,561 L590,531.7 L586,517.5 L584,506 L586,498.5 L595,495.5 L602.5,493.8 L609.5,490.5 L611.6,493.5 L610.2,503.5 L606,517.5 L601.3,531.7 L598.6,545.8 L596.6,560 Z" fill="#9e9e9e" filter="url(#b2)" />
<ellipse cx="590.4" cy="507.5" rx="4.6" ry="9" fill="#c2c2c2" filter="url(#b2)"/>
<path d="M595.1,561 L593.6,545.8 L593.7,531.7 L593.8,517.5 L594.4,510 L596,503.8 L602.5,498.4 L608.6,494.2 L608.2,503.3 L603.3,517.5 L598.4,531.7 L596.6,545.8 Z" fill="#e8e8e8" filter="url(#b1_5)" />
<path d="M625.5,503 L633,494 L645,489.5 L654,497 L654.5,506 L648,512 L641,517.5 L632,512 Z" fill="#bdbdbd" filter="url(#b2)" />
<ellipse cx="644.5" cy="499.5" rx="6" ry="4.5" fill="#cccccc" filter="url(#b2)"/>
<ellipse cx="672.5" cy="504.5" rx="5.2" ry="12.5" fill="#bfbfbf" filter="url(#b2)" transform="rotate(-30 672.5 504.5)"/>
</g></g>
<text transform="translate(550.4,514.8) scale(0.82,1)" text-anchor="middle" style="fill:#fff;stroke:#fff;stroke-width:0.5px;font-size:33.5px">T</text>
<text transform="translate(591.8,462.2) scale(0.69,1)" text-anchor="middle" style="fill:#fff;stroke:#fff;stroke-width:0.5px;font-size:35.5px">L</text>
<rect x="446.5" y="382.6" width="261.0" height="176.60000000000002" class="axis"/>
<path d="M497.6,382.6 v-3 M497.6,559.2 v3 M555.2,382.6 v-3 M555.2,559.2 v3 M612.8,382.6 v-3 M612.8,559.2 v3 M670.4,382.6 v-3 M670.4,559.2 v3 M446.5,559.2 h-3 M707.5,559.2 h3 M446.5,492.7 h-3 M707.5,492.7 h3 M446.5,426.2 h-3 M707.5,426.2 h3" class="tick"/>
<text transform="translate(497.6,588.5) scale(1.04,1)" text-anchor="middle" style="font-size:18.5px" >1</text>
<text transform="translate(555.2,588.5) scale(1.04,1)" text-anchor="middle" style="font-size:18.5px" >2</text>
<text transform="translate(612.8,588.5) scale(1.04,1)" text-anchor="middle" style="font-size:18.5px" >3</text>
<text transform="translate(670.4,588.5) scale(1.04,1)" text-anchor="middle" style="font-size:18.5px" >4</text>
<text transform="translate(441.5,565.6) scale(1.16,1)" text-anchor="end" style="font-size:17.8px" >0</text>
<text transform="translate(441.5,499.1) scale(1.16,1)" text-anchor="end" style="font-size:17.8px" >5</text>
<text transform="translate(441.5,432.6) scale(1.16,1)" text-anchor="end" style="font-size:17.8px" >10</text>
<text transform="translate(409,470.5) rotate(-90) scale(1.17,1)" text-anchor="middle" style="font-size:19.8px" >E (meV)</text>
<text transform="translate(575.5,622.5) scale(1.1,1)" text-anchor="middle" style="font-size:20px" >Q (Å<tspan dy="-7.6" style="font-size:13.6px">-1</tspan><tspan dy="7.6">)</tspan></text>
<text x="393" y="383.8" class="lbl" style="font-size:38px" textLength="21.5" lengthAdjust="spacingAndGlyphs">d</text>
<rect x="715.7" y="382.6" width="13" height="176.6" fill="url(#jetbar)"/>
<rect x="715.7" y="382.6" width="13" height="176.6" class="axis" stroke-width="0.9"/>
<text transform="translate(732.5,426.5) scale(1.08,1)" text-anchor="start" style="font-size:18.5px" >2</text>
<text transform="translate(732.5,497) scale(1.08,1)" text-anchor="start" style="font-size:18.5px" >1</text>
<text transform="translate(732.5,566) scale(1.08,1)" text-anchor="start" style="font-size:18.5px" >0</text>
<path d="M728.7,420 h-3 M728.7,490.4 h-3" class="tick" stroke-width="0.9"/>
</svg></body></html>
